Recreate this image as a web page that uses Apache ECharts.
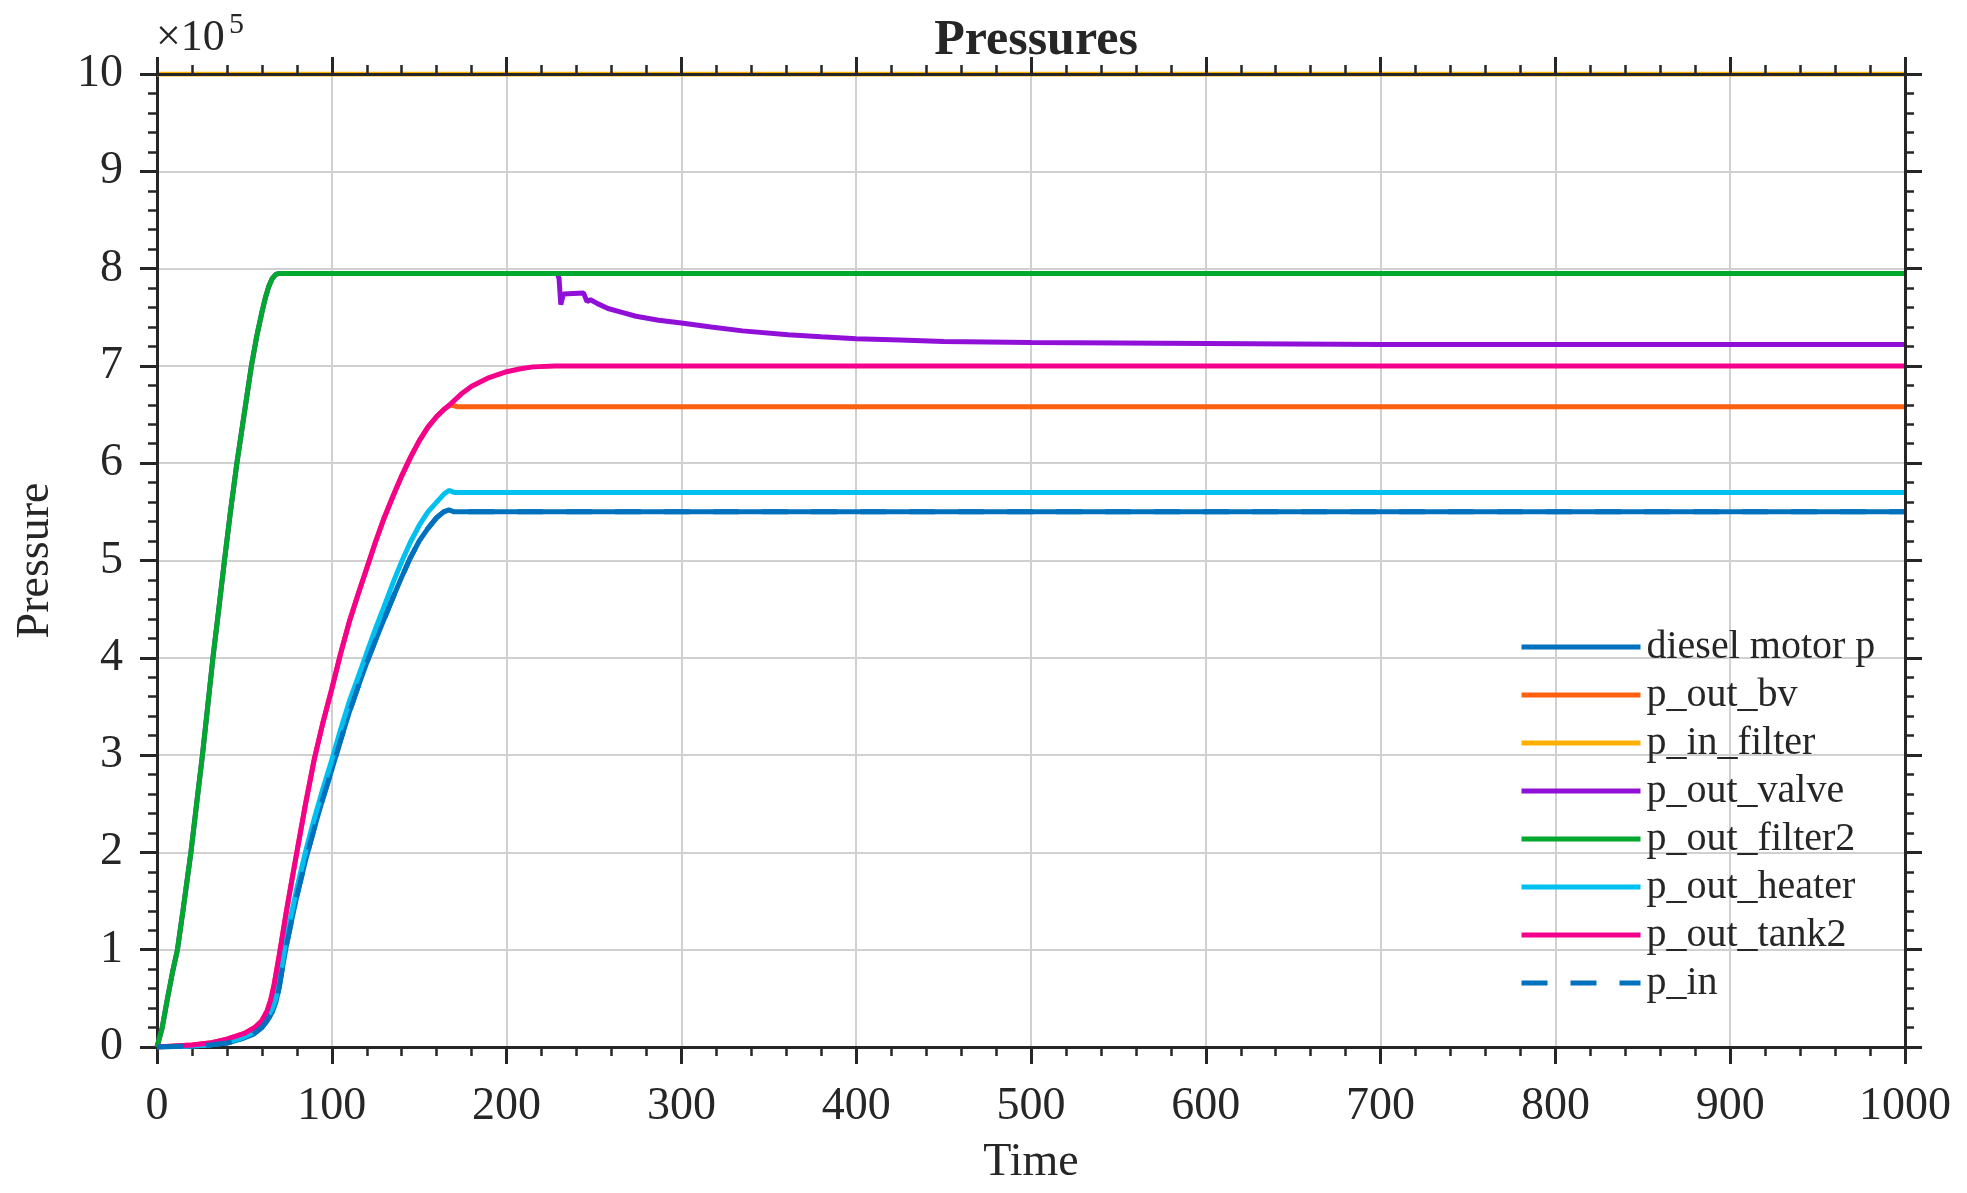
<!DOCTYPE html>
<html>
<head>
<meta charset="utf-8">
<title>Pressures</title>
<script src="https://cdn.jsdelivr.net/npm/echarts@6/dist/echarts.min.js"></script>
<style>
  html, body { margin: 0; padding: 0; background: #fff; }
  #chart { width: 1967px; height: 1193px; }
</style>
</head>
<body>
<div id="chart"></div>
<script>
// time in s, pressure in units of 1e5 Pa (axis shows x10^5)
var xTicks = [0, 100, 200, 300, 400, 500, 600, 700, 800, 900, 1000];
var yTicks = [0, 1, 2, 3, 4, 5, 6, 7, 8, 9, 10];

var seriesNames = ['diesel motor p', 'p_out_bv', 'p_in_filter', 'p_out_valve',
                   'p_out_filter2', 'p_out_heater', 'p_out_tank2', 'p_in'];

var motorP = [[0,0],[20,0.01],[30,0.02],[40,0.04],[48,0.08],[55,0.13],[60,0.2],[63,0.27],[66,0.36],
  [68,0.46],[70,0.62],[72,0.84],[74,1.04],[77,1.3],[80,1.55],[85,1.92],[90,2.25],[95,2.56],
  [100,2.85],[105,3.15],[110,3.44],[115,3.7],[120,3.95],[125,4.18],[130,4.4],[135,4.62],
  [140,4.83],[145,5.03],[150,5.2],[155,5.33],[160,5.44],[164,5.5],[167,5.52],[170,5.5],[1000,5.5]];

var outBv = [[0,0],[20,0.02],[30,0.04],[40,0.08],[50,0.14],[56,0.2],[60,0.27],[63,0.37],[65,0.48],
  [67,0.64],[70,0.95],[74,1.39],[77,1.7],[80,2.0],[85,2.5],[90,2.96],[95,3.34],[100,3.68],
  [105,4.04],[110,4.37],[115,4.65],[120,4.92],[125,5.19],[130,5.44],[135,5.66],[140,5.87],
  [145,6.06],[150,6.23],[155,6.37],[160,6.48],[164,6.55],[168,6.6],[172,6.58],[1000,6.58]];

var inFilter = [[0,10],[1000,10]];

var outValve = [[0,0],[3,0.2],[6,0.5],[9,0.78],[11.7,1],[15,1.42],[19.4,2],[23,2.55],[26,3],
  [29,3.5],[32,4],[35,4.45],[38.6,5],[42,5.5],[45.7,6],[50,6.52],[54,7],[57,7.3],[60,7.55],
  [62,7.7],[64,7.82],[66,7.9],[68,7.94],[70,7.95],[229,7.95],[230,7.9],[231,7.63],[232.5,7.74],
  [244,7.75],[246,7.66],[248,7.68],[252,7.64],[258,7.59],[266,7.55],[274,7.51],[287,7.47],
  [300,7.44],[317,7.4],[335,7.36],[361,7.32],[380,7.3],[400,7.28],[425,7.265],[450,7.25],
  [500,7.24],[600,7.23],[700,7.22],[1000,7.22]];

var outFilter2 = [[0,0],[3,0.2],[6,0.5],[9,0.78],[11.7,1],[15,1.42],[19.4,2],[23,2.55],[26,3],
  [29,3.5],[32,4],[35,4.45],[38.6,5],[42,5.5],[45.7,6],[50,6.52],[54,7],[57,7.3],[60,7.55],
  [62,7.7],[64,7.82],[66,7.9],[68,7.94],[70,7.95],[1000,7.95]];

var outHeater = [[0,0],[20,0.01],[30,0.02],[40,0.05],[48,0.09],[55,0.15],[60,0.22],[63,0.3],[66,0.4],
  [68,0.5],[70,0.68],[72,0.9],[74,1.12],[77,1.38],[80,1.63],[85,2.01],[90,2.35],[95,2.66],
  [100,2.95],[105,3.26],[110,3.55],[115,3.8],[120,4.05],[125,4.3],[130,4.53],[135,4.77],
  [140,4.99],[145,5.19],[150,5.36],[155,5.5],[160,5.6],[164,5.68],[167,5.72],[170,5.7],[1000,5.7]];

var outTank2 = [[0,0],[20,0.02],[30,0.04],[40,0.08],[50,0.14],[56,0.2],[60,0.27],[63,0.37],[65,0.48],
  [67,0.64],[70,0.95],[74,1.39],[77,1.7],[80,2.0],[85,2.5],[90,2.96],[95,3.34],[100,3.68],
  [105,4.04],[110,4.37],[115,4.65],[120,4.92],[125,5.19],[130,5.44],[135,5.66],[140,5.87],
  [145,6.06],[150,6.23],[155,6.37],[160,6.48],[164,6.55],[168,6.61],[174,6.71],[180,6.79],
  [190,6.88],[200,6.94],[208,6.97],[215,6.99],[228,7.0],[1000,7.0]];

var pIn = motorP;

var seriesData = [motorP, outBv, inFilter, outValve, outFilter2, outHeater, outTank2, pIn];
var colors = ['#0072BD', '#FF6010', '#FFB000', '#9010D8', '#00A82D', '#00C0F0', '#F5008C', '#0072BD'];

var chart = echarts.init(document.getElementById('chart'));
var font = 'Liberation Serif, Times New Roman, serif';
var ink = '#262626';

function axisBase(pos, showLabel) {
  return {
    type: 'value',
    position: pos,
    min: 0,
    axisLine: { show: true, onZero: false, lineStyle: { color: ink, width: 3 } },
    axisTick: { show: true, length: 17, lineStyle: { color: ink, width: 3 } },
    minorTick: { show: true, splitNumber: 5, length: 9, lineStyle: { color: ink, width: 2.5 } },
    axisLabel: { show: showLabel, color: ink, fontFamily: font, fontSize: 46,
                 formatter: function (v) { return String(v); } },
    splitLine: { show: showLabel, lineStyle: { color: '#d0d0d0', width: 2 } },
    // main axes (with grid lines) under the curves, box edges on top
    z: showLabel ? 0 : 10
  };
}

var xMain = axisBase('bottom', true);
xMain.max = xTicks[xTicks.length - 1];
xMain.interval = xTicks[1] - xTicks[0];
xMain.name = 'Time';
xMain.nameLocation = 'middle';
xMain.nameGap = 93;
xMain.nameTextStyle = { color: ink, fontFamily: font, fontSize: 46 };
xMain.axisLabel.margin = 37;

var xTop = axisBase('top', false);
xTop.max = xMain.max;
xTop.interval = xMain.interval;

var yMain = axisBase('left', true);
yMain.max = yTicks[yTicks.length - 1];
yMain.interval = yTicks[1] - yTicks[0];
yMain.name = 'Pressure';
yMain.nameLocation = 'middle';
yMain.nameGap = 98;
yMain.nameTextStyle = { color: ink, fontFamily: font, fontSize: 46 };
yMain.axisLabel.margin = 34;

var yRight = axisBase('right', false);
yRight.max = yMain.max;
yRight.interval = yMain.interval;

var option = {
  animation: false,
  backgroundColor: '#fff',
  title: {
    text: 'Pressures',
    left: 1031,
    textAlign: 'center',
    top: 11,
    textStyle: { fontFamily: font, fontSize: 50, fontWeight: 'bold', color: ink }
  },
  grid: { left: 157, right: 62, top: 74, bottom: 146 },
  legend: {
    orient: 'vertical',
    left: 1514,
    top: 622,
    itemWidth: 119,
    itemHeight: 14,
    itemGap: 8,
    itemStyle: { opacity: 0 },
    lineStyle: { width: 5 },
    textStyle: { fontFamily: font, fontSize: 40, color: ink, lineHeight: 40, padding: [0, 0, 0, 1] },
    data: seriesNames
  },
  xAxis: [xMain, xTop],
  yAxis: [yMain, yRight],
  graphic: [
    { type: 'text', left: 156, top: 16,
      style: { text: '\u00d710', fontFamily: font, fontSize: 44, fill: ink } },
    { type: 'text', left: 229, top: 10,
      style: { text: '5', fontFamily: font, fontSize: 30, fill: ink } }
  ],
  series: seriesNames.map(function (name, i) {
    return {
      name: name,
      type: 'line',
      data: seriesData[i],
      xAxisIndex: 0,
      yAxisIndex: 0,
      symbol: 'none',
      color: colors[i],
      lineStyle: { color: colors[i], width: 5, type: name === 'p_in' ? [26, 23] : 'solid' },
      z: 2 + i * 0.01
    };
  })
};

chart.setOption(option);
</script>
</body>
</html>
